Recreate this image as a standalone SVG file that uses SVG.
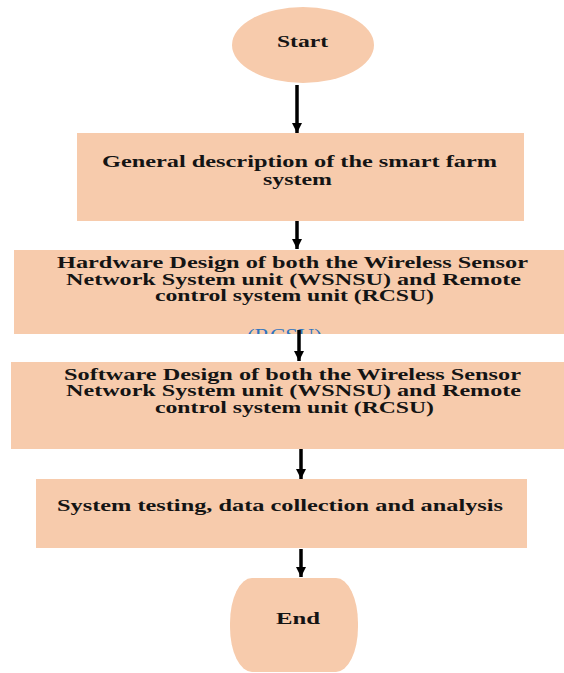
<svg xmlns="http://www.w3.org/2000/svg" width="564" height="673" viewBox="0 0 564 673">
<defs>
<style>
.n{fill:#F7CBAC;stroke:none}
.t{font-family:"Liberation Serif","Times New Roman",serif;font-weight:bold;font-size:16px;fill:#141414}
.b{font-family:"Liberation Serif","Times New Roman",serif;font-size:18px;fill:#2E74C0}
.c{stroke:#000;stroke-width:3.5;fill:none}
</style>
<marker id="ah" viewBox="0 0 10 10" refX="10" refY="5" markerWidth="10" markerHeight="12" markerUnits="userSpaceOnUse" orient="auto">
<path d="M0,0 L10,5 L0,10 z" fill="#000"/>
</marker>
<clipPath id="clip2"><rect x="14" y="250" width="550" height="84"/></clipPath>
</defs>
<rect width="564" height="673" fill="#fff"/>
<g id="start">
<ellipse class="n" cx="303" cy="45" rx="71" ry="38"/>
<text class="t" x="277" y="47" textLength="51" lengthAdjust="spacingAndGlyphs">Start</text>
</g>
<g id="general">
<rect class="n" x="77" y="133" width="447" height="88"/>
<text class="t" x="102" y="167" textLength="395" lengthAdjust="spacingAndGlyphs">General description of the smart farm</text>
<text class="t" x="263" y="185" textLength="69" lengthAdjust="spacingAndGlyphs">system</text>
</g>
<g id="hardware">
<rect class="n" x="14" y="250" width="550" height="84"/>
<text class="t" x="57" y="268" textLength="471" lengthAdjust="spacingAndGlyphs">Hardware Design of both the  Wireless Sensor</text>
<text class="t" x="66" y="285" textLength="455" lengthAdjust="spacingAndGlyphs">Network System unit (WSNSU)  and Remote</text>
<text class="t" x="155" y="301" textLength="279" lengthAdjust="spacingAndGlyphs">control system unit (RCSU)</text>
<g clip-path="url(#clip2)">
<text class="b" x="247" y="342" textLength="75" lengthAdjust="spacingAndGlyphs">(RCSU)</text>
</g>
</g>
<g id="software">
<rect class="n" x="11" y="362" width="553" height="87"/>
<text class="t" x="64" y="380" textLength="457" lengthAdjust="spacingAndGlyphs">Software Design of both the Wireless Sensor</text>
<text class="t" x="66" y="396" textLength="455" lengthAdjust="spacingAndGlyphs">Network System unit (WSNSU)  and Remote</text>
<text class="t" x="155" y="413" textLength="279" lengthAdjust="spacingAndGlyphs">control system unit (RCSU)</text>
</g>
<g id="testing">
<rect class="n" x="36" y="479" width="491" height="69"/>
<text class="t" x="57" y="511" textLength="446" lengthAdjust="spacingAndGlyphs">System testing, data collection and analysis</text>
</g>
<g id="end">
<rect class="n" x="230" y="578" width="128" height="94" rx="22" ry="45"/>
<text class="t" x="276" y="624" textLength="44" lengthAdjust="spacingAndGlyphs">End</text>
</g>
<g id="connectors">
<line class="c" x1="297" y1="85" x2="297" y2="133" marker-end="url(#ah)"/>
<line class="c" x1="297" y1="221" x2="297" y2="249" marker-end="url(#ah)"/>
<line class="c" x1="299" y1="330" x2="299" y2="361" marker-end="url(#ah)"/>
<line class="c" x1="301" y1="449" x2="301" y2="479" marker-end="url(#ah)"/>
<line class="c" x1="301" y1="549" x2="301" y2="577" marker-end="url(#ah)"/>
</g>
</svg>
